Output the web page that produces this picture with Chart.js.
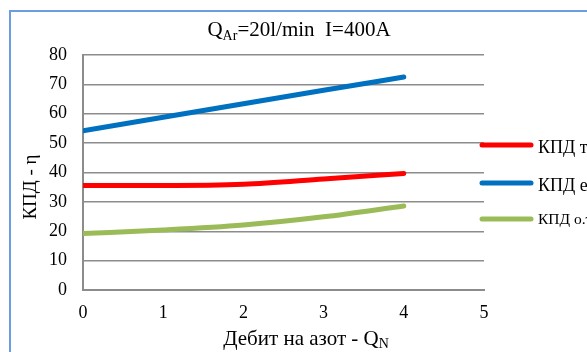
<!DOCTYPE html>
<html><head><meta charset="utf-8">
<script src="https://cdn.jsdelivr.net/npm/chart.js@4"></script>
<style>html,body{margin:0;padding:0;background:#fff;}#wrap{width:587px;height:352px;position:relative;}</style>
</head><body><div id="wrap"><canvas id="c" width="587" height="352"></canvas></div>
<script>
const xValues = [0, 1, 2, 3, 4];
const kpdThermal = [35.6, 35.6, 36.0, 37.8, 39.7];
const kpdElectric = [54.2, 58.8, 63.4, 68.0, 72.5];
const kpdTotal = [19.2, 20.4, 22.1, 24.9, 28.6];
const seriesNames = ["КПД термичен", "КПД електрически", "КПД о.т."];
const seriesColors = ["#ff0000", "#0070c0", "#9bbb59"];
const yTicks = [0, 10, 20, 30, 40, 50, 60, 70, 80];
const xTicks = [0, 1, 2, 3, 4, 5];

const SERIF = '"Liberation Serif", "Times New Roman", serif';

function drawSub(ctx, parts, x, y, align) {
  let total = 0;
  const widths = parts.map(p => { ctx.font = p[2]; const w = ctx.measureText(p[0]).width; total += w; return w; });
  let cx = align === 'center' ? x - total / 2 : x;
  parts.forEach((p, i) => {
    ctx.font = p[2];
    ctx.fillText(p[0], cx, y + p[1]);
    cx += widths[i];
  });
}

const decor = {
  id: 'decor',
  beforeDraw(chart) {
    const ctx = chart.ctx;
    ctx.save();
    ctx.fillStyle = '#fff';
    ctx.fillRect(0, 0, 587, 352);
    ctx.strokeStyle = '#6a9ee0';
    ctx.lineWidth = 2;
    ctx.beginPath();
    ctx.moveTo(10, 352); ctx.lineTo(10, 11); ctx.lineTo(587, 11);
    ctx.stroke();
    ctx.restore();
  },
  afterDraw(chart) {
    const ctx = chart.ctx;
    ctx.save();
    ctx.fillStyle = '#000';
    ctx.textAlign = 'left';
    ctx.textBaseline = 'alphabetic';
    const big = '21px ' + SERIF, small = '14px ' + SERIF;
    drawSub(ctx, [['Q', 0, big], ['Ar', 4, small], ['=20l/min  I=400A', 0, big]], 299, 36, 'center');
    const xf = '21px ' + SERIF, xs = '14px ' + SERIF;
    drawSub(ctx, [['Дебит на азот - Q', 0, xf], ['N', 3, xs]], 306, 345, 'center');
    ctx.translate(36, 187);
    ctx.rotate(-Math.PI / 2);
    ctx.font = '19px ' + SERIF;
    ctx.textAlign = 'center';
    ctx.fillText('КПД - η', 0, 0);
    ctx.restore();

    // legend
    ctx.save();
    const ly = [145, 183, 219];
    const ty = [153, 191, 224];
    const fonts = ['18px ' + SERIF, '18px ' + SERIF, '15.5px ' + SERIF];
    chart.data.datasets.forEach((ds, i) => {
      ctx.strokeStyle = ds.borderColor;
      ctx.lineWidth = 5;
      ctx.lineCap = 'round';
      ctx.beginPath();
      ctx.moveTo(482, ly[i]); ctx.lineTo(531, ly[i]);
      ctx.stroke();
      ctx.fillStyle = '#000';
      ctx.font = fonts[i];
      ctx.textBaseline = 'alphabetic';
      ctx.fillText(ds.label, 538, ty[i]);
    });
    ctx.restore();
  }
};

const mk = (label, data, color) => ({
  label, data: xValues.map((x, i) => ({ x, y: data[i] })),
  borderColor: color, backgroundColor: color, borderWidth: 5,
  pointRadius: 0, tension: 0.4, cubicInterpolationMode: 'monotone',
  borderCapStyle: 'round', borderJoinStyle: 'round', fill: false
});

new Chart(document.getElementById('c'), {
  type: 'line',
  data: {
    datasets: [
      mk(seriesNames[0], kpdThermal, seriesColors[0]),
      mk(seriesNames[1], kpdElectric, seriesColors[1]),
      mk(seriesNames[2], kpdTotal, seriesColors[2])
    ]
  },
  options: {
    responsive: false, animation: false,
    layout: { padding: { left: 0, top: 55, right: 103, bottom: 0 } },
    plugins: { legend: { display: false }, tooltip: { enabled: false }, title: { display: false } },
    scales: {
      x: {
        type: 'linear', min: 0, max: 5,
        afterBuildTicks: s => { s.ticks = xTicks.map(v => ({ value: v })); },
        afterFit: s => { s.height = 62; },
        grid: { display: false, drawTicks: false },
        border: { display: true, color: '#8c8c8c', width: 2 },
        ticks: { color: '#000', font: { family: SERIF, size: 18 }, padding: 12, maxRotation: 0 }
      },
      y: {
        min: 0, max: 80,
        afterBuildTicks: s => { s.ticks = yTicks.map(v => ({ value: v })); },
        afterFit: s => { s.width = 83; },
        grid: { color: '#8c8c8c', lineWidth: 1.5, drawTicks: false },
        border: { display: true, color: '#8c8c8c', width: 2 },
        ticks: { color: '#000', font: { family: SERIF, size: 18 }, padding: 16 }
      }
    }
  },
  plugins: [decor]
});
</script></body></html>
